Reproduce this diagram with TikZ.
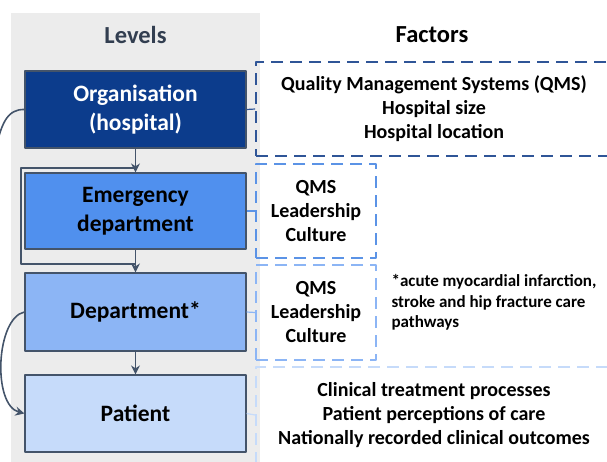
\documentclass[tikz,border=0pt]{standalone}
\usepackage{fontspec}
\setmainfont{Carlito}
\usetikzlibrary{arrows.meta}
\definecolor{panelgray}{RGB}{236,236,236}
\definecolor{slate}{RGB}{68,84,106}
\definecolor{headslate}{RGB}{50,62,80}
\definecolor{orgblue}{RGB}{12,60,140}
\definecolor{edblue}{RGB}{80,144,238}
\definecolor{deptblue}{RGB}{140,181,245}
\definecolor{patblue}{RGB}{198,219,250}
\definecolor{orgdash}{RGB}{47,85,151}
\definecolor{eddash}{RGB}{91,147,230}
\begin{document}
\begin{tikzpicture}[x=1pt, y=-1pt, line join=round,
  level/.style={draw=slate, line width=1.2pt, minimum width=221pt, minimum height=77pt,
    inner sep=0pt, align=center, font=\bfseries\fontsize{23.5}{29}\selectfont},
  factor/.style={dash pattern=on 12pt off 7pt, line width=1.6pt, inner sep=0pt,
    align=center, font=\bfseries\fontsize{20}{24}\selectfont},
  flow/.style={-{Stealth[length=9pt,width=9pt]}, draw=slate, line width=1.6pt},
  head/.style={font=\bfseries\fontsize{24.5}{29}\selectfont}]
  \path[use as bounding box] (0,0) rectangle (607,461);
  \clip (0,0) rectangle (607,461);
  % levels column
  \fill[panelgray] (11,13) rectangle (260,470);
  \node[head, text=headslate] (levels) at (135.5,35) {Levels};
  \node[head] (factors) at (432,35) {Factors};
  \node[level, fill=orgblue, text=white] (org) at (135.5,109.5) {Organisation\\(hospital)};
  \node[level, fill=edblue, minimum height=76pt] (ed) at (135.5,211) {Emergency\\department};
  \node[level, fill=deptblue, minimum height=78pt] (dept) at (135.5,312) {Department*};
  \node[level, fill=patblue] (pat) at (135.5,413.5) {Patient};
  % factors
  \node[factor, draw=orgdash, minimum width=356pt, minimum height=94pt] (f1) at (434,109)
    {Quality Management Systems (QMS)\\Hospital size\\Hospital location};
  \node[factor, draw=eddash, minimum width=120pt, minimum height=94pt] (f2) at (316,211)
    {QMS\\Leadership\\Culture};
  \node[factor, draw=deptblue, minimum width=120pt, minimum height=95pt] (f3) at (316,312.5)
    {QMS\\Leadership\\Culture};
  \node[factor, draw=patblue, minimum width=356pt, minimum height=96pt] (f4) at (434,415)
    {Clinical treatment processes\\Patient perceptions of care\\Nationally recorded clinical outcomes};
  \node[anchor=west, align=left, font=\bfseries\fontsize{17}{20.5}\selectfont] (note) at (388,302.5)
    {*acute myocardial infarction,\\stroke and hip fracture care\\pathways};
  % links
  \draw[orgdash, line width=1.2pt] (org.east) -- (f1.west);
  \draw[eddash, line width=1.2pt] (ed.east) -- (f2.west);
  \draw[deptblue, line width=1.2pt] (dept.east) -- (f3.west);
  \draw[patblue, line width=1.2pt] (pat.east) -- (f4.west);
  \coordinate (b1) at (21,168);
  \coordinate (b2) at (21,264);
  \draw[slate, line width=1.6pt] (org.south |- b1) -- (b1) -- (b2) -- (ed.south |- b2);
  \draw[flow] (org.south) -- (ed.north);
  \draw[flow] (ed.south) -- (dept.north);
  \draw[flow] (dept.south) -- (pat.north);
  \draw[flow] (dept.west) .. controls (-4,318) and (-8,405) .. (pat.west);
  \coordinate (orgout) at (-6,160);
  \draw[slate, line width=1.6pt] (org.west) .. controls (8,109) and (0,122) .. (orgout);
\end{tikzpicture}
\end{document}
